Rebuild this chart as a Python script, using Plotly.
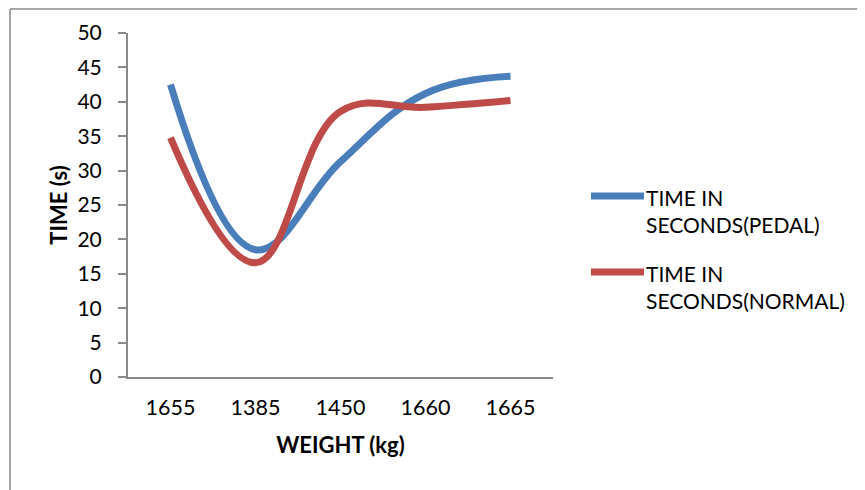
import plotly.graph_objects as go

weights = ["1655", "1385", "1450", "1660", "1665"]
pedal = [42.5, 18.5, 31.3, 41.2, 43.7]
normal = [34.8, 16.6, 38.6, 39.2, 40.2]
series_names = ["TIME IN<br>SECONDS(PEDAL)", "TIME IN<br>SECONDS(NORMAL)"]
colors = ["#4a7ebb", "#be4b48"]

# page body has an 8px margin; shift the whole figure accordingly
OFF = 8
W, H = 865 - OFF, 490 - OFF
L, R, T, B = 128 - OFF, 312, 33 - OFF, 113
PW, PH = W - L - R, H - T - B

def px(x):
    return (x - OFF - L) / PW

def py(y):
    return (H - B - (y - OFF)) / PH

FONT = "Lato, Carlito, 'Open Sans', sans-serif"
GRAY = "#8a8a8a"

fig = go.Figure()
for vals, name, col in zip([pedal, normal], series_names, colors):
    fig.add_trace(go.Scatter(
        x=weights, y=vals, mode="lines", name=name,
        line=dict(color=col, width=7, shape="spline", smoothing=1.15),
        showlegend=False,
    ))

shapes = [
    dict(type="line", xref="paper", yref="paper", x0=px(10), x1=px(866), y0=py(9), y1=py(9),
         line=dict(color=GRAY, width=1.5)),
    dict(type="line", xref="paper", yref="paper", x0=px(10), x1=px(10), y0=py(9), y1=py(491),
         line=dict(color=GRAY, width=1.5)),
]
annotations = []
legend_y = [(196, 211.5), (272, 287)]
for (ly, ty), name, col in zip(legend_y, series_names, colors):
    shapes.append(dict(type="line", xref="paper", yref="paper", x0=px(591), x1=px(644),
                       y0=py(ly), y1=py(ly), line=dict(color=col, width=7)))
    annotations.append(dict(xref="paper", yref="paper", x=px(644), y=py(ty), text=name,
                            showarrow=False, xanchor="left", yanchor="middle", align="left",
                            font=dict(family=FONT, size=21, color="#000000")))

fig.update_layout(
    width=W, height=H,
    margin=dict(l=L, r=R, t=T, b=B),
    paper_bgcolor="white", plot_bgcolor="white",
    shapes=shapes, annotations=annotations,
    font=dict(family=FONT, color="#000000"),
    xaxis=dict(
        type="category", range=[-0.5, 4.5], showgrid=False, zeroline=False,
        showline=True, linecolor=GRAY, linewidth=2, ticks="",
        tickfont=dict(family=FONT, size=21.5, color="#000000"),
        ticklabelstandoff=10,
        title=dict(text="<b>WEIGHT (kg)</b>", font=dict(family=FONT, size=22, color="#000000"), standoff=19),
    ),
    yaxis=dict(
        range=[0, 50], dtick=5, showgrid=False, zeroline=False,
        showline=True, linecolor=GRAY, linewidth=2, ticks="outside", ticklen=8,
        tickcolor=GRAY, tickwidth=1.5,
        tickfont=dict(family=FONT, size=21, color="#000000"),
        ticklabelstandoff=12,
        title=dict(text="<b>TIME (s)</b>", font=dict(family=FONT, size=22, color="#000000"), standoff=4),
    ),
)

fig.write_html("out.html")
